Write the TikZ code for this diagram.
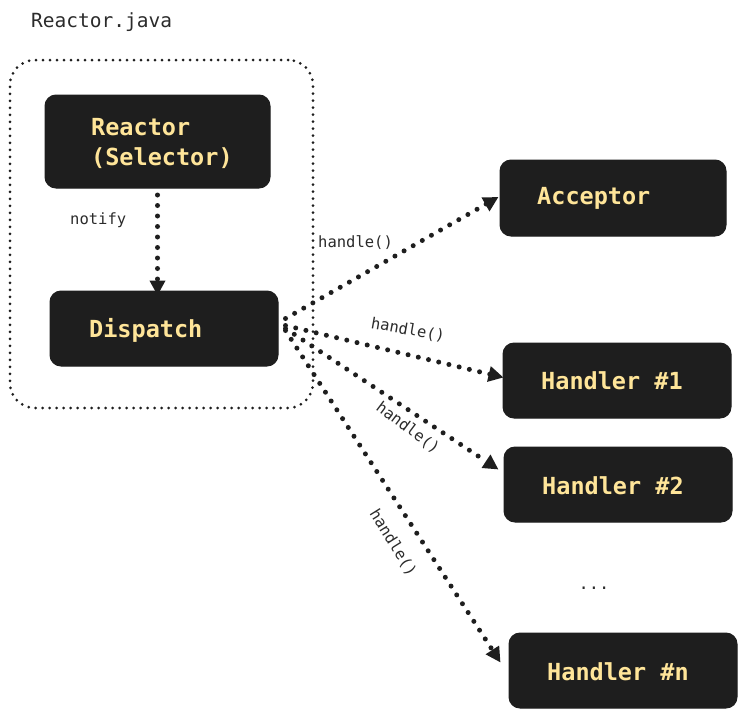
\documentclass[tikz,border=0pt]{standalone}
\usepackage{fontspec}
\setmonofont{DejaVu Sans Mono}
\usetikzlibrary{arrows.meta}
\definecolor{boxfill}{HTML}{1E1E1E}
\definecolor{boxtext}{HTML}{FFE599}
\definecolor{labeltext}{HTML}{2B2B2B}
\begin{document}
\begin{tikzpicture}[x=1pt,y=-1pt,
  box/.style={draw=boxfill, fill=boxfill, line width=1pt, rounded corners=11pt, inner sep=0pt},
  boxlabel/.style={font=\ttfamily\bfseries\fontsize{23.5}{30}\selectfont, text=boxtext, align=left, inner sep=0pt},
  small/.style={font=\ttfamily\fontsize{15.5}{18}\selectfont, text=labeltext, inner sep=0pt},
  flow/.style={line width=5pt, dash pattern=on 0pt off 10.5pt, line cap=round, draw=boxfill,
    -{Triangle[length=15pt,width=15pt]}},
  frame/.style={draw=boxfill, line width=3pt, dash pattern=on 0pt off 7pt, line cap=round, rounded corners=25pt}
]
\useasboundingbox (0,0) rectangle (746,718);

% container
\node[frame, minimum width=303pt, minimum height=348pt] (container) at (161.5,234) {};
\node[small, font=\ttfamily\fontsize{19.5}{22}\selectfont, anchor=west] (title) at (31,22) {Reactor.java};

% boxes
\node[box, minimum width=225pt, minimum height=93pt] (reactor) at (157.5,141.5) {};
\node[boxlabel, anchor=west] (reactort) at (91,143) {Reactor\\(Selector)};

\node[box, minimum width=228pt, minimum height=75pt] (dispatch) at (164,328.5) {};
\node[boxlabel, anchor=west] (dispatcht) at (89,330) {Dispatch};

\node[box, minimum width=226pt, minimum height=76pt] (acceptor) at (613,198) {};
\node[boxlabel, anchor=west] (acceptort) at (537,198) {Acceptor};

\node[box, minimum width=228pt, minimum height=75pt] (h1) at (617,380.5) {};
\node[boxlabel, anchor=west] (h1t) at (541,381) {Handler \#1};

\node[box, minimum width=228pt, minimum height=75pt] (h2) at (618,484.5) {};
\node[boxlabel, anchor=west] (h2t) at (542,486) {Handler \#2};

\node[box, minimum width=228pt, minimum height=75pt] (hn) at (623,670.5) {};
\node[boxlabel, anchor=west] (hnt) at (547,672) {Handler \#n};

\node[small, font=\ttfamily\fontsize{17}{20}\selectfont] (dots) at (594,588) {...};

% notify
\draw[flow] ([yshift=4pt]reactor.south) -- ([yshift=-5pt]reactor.south |- dispatch.north);
\node[small, anchor=west] (notify) at (70,220) {notify};

% handle arrows
\coordinate (d1) at ([shift={(7,-10)}]dispatch.east);
\coordinate (d2) at ([shift={(7,-3)}]dispatch.east);
\coordinate (d3) at ([shift={(7,0)}]dispatch.east);
\coordinate (d4) at ([shift={(7,2)}]dispatch.east);
\draw[flow] (d1) -- ([shift={(-1,-1)}]acceptor.west);
\draw[flow] (d2) -- ([shift={(1,-3)}]h1.west);
\draw[flow] (d3) -- ([shift={(-5,-15)}]h2.west);
\draw[flow] (d4) -- ([shift={(-8,-8)}]hn.west);

\node[small, anchor=west] (l1) at (318,243) {handle()};
\node[small, rotate=-10] (l2) at (408,330) {handle()};
\node[small, rotate=-37] (l3) at (408,428) {handle()};
\node[small, rotate=-58] (l4) at (393,543) {handle()};
\end{tikzpicture}
\end{document}
